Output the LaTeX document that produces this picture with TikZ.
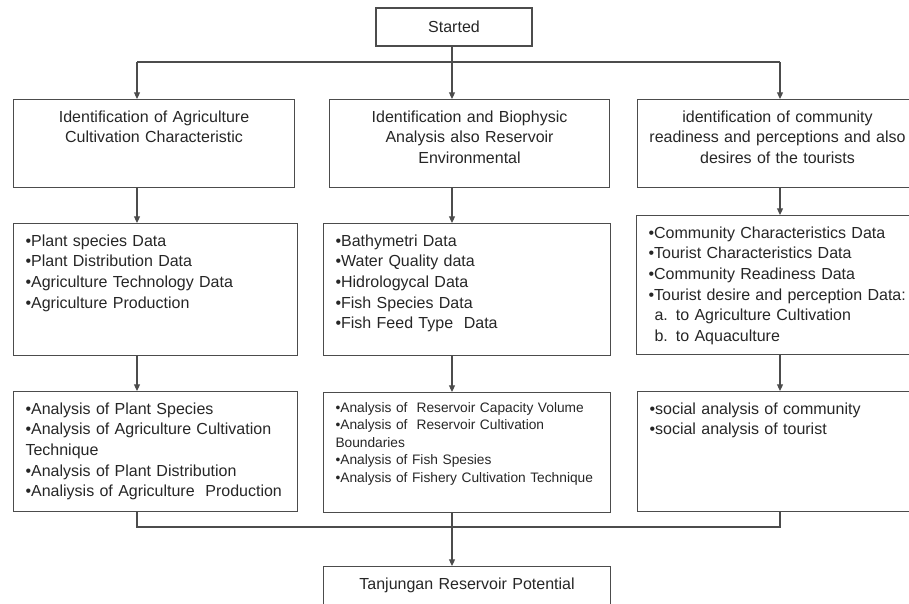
\documentclass[tikz,border=0pt]{standalone}
\usepackage{fontspec}
\setmainfont{Liberation Sans}
\usetikzlibrary{arrows.meta}

\begin{document}
\begin{tikzpicture} [x=0.75pt, y=-0.75pt, line width=0.8pt, color=black!70,
        >={Triangle[length=5pt,width=4.5pt]},
        box/.style={draw, text=black!85, anchor=north west, inner xsep=9pt, inner ysep=4pt,
            text height=13pt, align=left, font=\fontsize{12}{15.5}\selectfont},
        head/.style={box, inner xsep=4pt, align=center},
        smallbox/.style={box, text height=10.85pt, font=\fontsize{10.3}{13.1}\selectfont}]
    \useasboundingbox (0,0) rectangle (909,603);
    \node[draw, text=black!85, font=\fontsize{12}{15.5}\selectfont, minimum width=117pt,
        minimum height=28.5pt, inner sep=0pt] (start) at (454,27) {Started};
    % first row
    \node[head, text width=202.75pt, text depth=45pt] (A-1) at (13,99)
        {Identification of Agriculture\\Cultivation Characteristic};
    \node[head, text width=202pt, text depth=45pt] (B-1) at (329,99)
        {Identification and Biophysic\\Analysis also Reservoir\\Environmental};
    \node[head, text width=202pt, text depth=45pt] (C-1) at (637,99)
        {identification of community\\readiness and perceptions and also\\desires of the tourists};
    % data
    \node[box, text width=195pt, text depth=78pt] (A-2) at (13,223)
        {•Plant species Data\\•Plant Distribution Data\\•Agriculture Technology Data\\•Agriculture Production};
    \node[box, text width=197.25pt, text depth=78pt] (B-2) at (323,223)
        {•Bathymetri Data\\•Water Quality data\\•Hidrologycal Data\\•Fish Species Data\\•Fish Feed Type~ Data};
    \node[box, text width=200pt, text depth=83.25pt] (C-2) at (636,215)
        {•Community Characteristics Data\\•Tourist Characteristics Data\\•Community Readiness Data\\
         •Tourist desire and perception Data:\\\hspace*{4.5pt}a. to Agriculture Cultivation\\
         \hspace*{4.5pt}b. to Aquaculture};
    % analysis
    \node[box, text width=195pt, text depth=69pt] (A-3) at (13,391)
        {•Analysis of Plant Species\\•Analysis of Agriculture Cultivation\\Technique\\
         •Analysis of Plant Distribution\\•Analiysis of Agriculture~ Production};
    \node[smallbox, text width=197.25pt, text depth=71.15pt] (B-3) at (323,392)
        {•Analysis of~ Reservoir Capacity Volume\\•Analysis of~ Reservoir Cultivation\\Boundaries\\
         •Analysis of Fish Spesies\\•Analysis of Fishery Cultivation Technique};
    \node[box, text width=200pt, text depth=69pt] (C-3) at (637,391)
        {•social analysis of community\\•social analysis of tourist};
    \node[head, text width=207.25pt, text depth=16.5pt] (F) at (323,566)
        {Tanjungan Reservoir Potential};
    % connectors
    \coordinate (xA) at (137,62);
    \coordinate (xB) at (452,62);
    \coordinate (xC) at (780,62);
    \coordinate (join) at (452,527);
    \draw[->] (start.south -| xB) -- (B-1.north -| xB);
    \draw (xA) -- (xC);
    \foreach \c in {A,C}
        \draw[->] (x\c) -- (\c-1.north -| x\c);
    \foreach \c in {A,B,C} {
        \draw[->] (\c-1.south -| x\c) -- (\c-2.north -| x\c);
        \draw[->] (\c-2.south -| x\c) -- (\c-3.north -| x\c);
    }
    \draw (A-3.south -| xA) |- (join) -| (C-3.south -| xC);
    \draw[->] (B-3.south -| xB) -- (F.north -| xB);
\end{tikzpicture}
\end{document}
